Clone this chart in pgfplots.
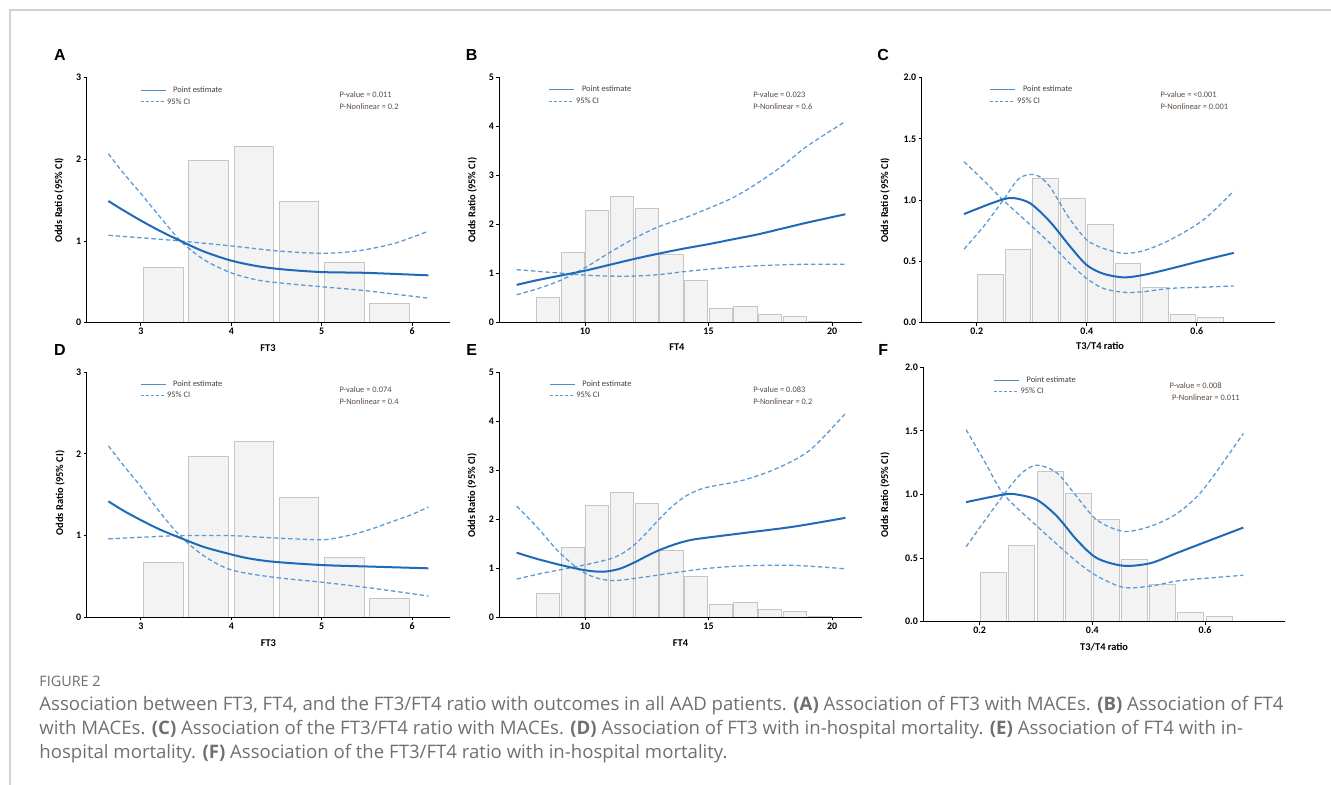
\documentclass[border=0pt]{standalone}
\usepackage{fontspec}
\setmainfont{Carlito}
\newfontfamily\capfont{Open Sans}
\newfontfamily\letfont{Liberation Sans}
\usepackage{pgfplots}
\pgfplotsset{compat=1.18}

\definecolor{ptblue}{HTML}{1F6AB8}
\definecolor{ciblue}{HTML}{5B9BD5}
\definecolor{barfill}{HTML}{F3F3F3}
\definecolor{baredge}{HTML}{C6C6C6}
\definecolor{ptext}{HTML}{5A4B42}
\definecolor{captext}{HTML}{707070}
\definecolor{framegray}{HTML}{D2D2D2}

\newcommand\pfont{\fontsize{4.2}{5}\selectfont}
\newcommand\letter[1]{{\letfont\bfseries\fontsize{8}{8}\selectfont #1}}

\pgfplotsset{
  panel/.style={
    scale only axis, anchor=south west,
    axis x line*=bottom, axis y line*=left,
    axis line style={-, line width=0.75pt, black},
    axis on top,
    tick align=outside, major tick length=1.5pt,
    tick style={black, line width=0.5pt},
    ymin=0, clip=false,
    /pgf/number format/assume math mode=true,
    ticklabel style={font=\fontsize{5}{5}\selectfont\bfseries, inner sep=1pt},
    label style={font=\fontsize{5.2}{5.2}\selectfont\bfseries},
    ylabel={Odds Ratio (95\% CI)},
    legend style={draw=none, fill=none, inner sep=0pt, outer sep=0pt,
      anchor=north west, font=\pfont\color{darkgray}, row sep=0.8pt,
      nodes={inner sep=0.6pt, text height=3pt, text depth=0.9pt}},
    legend cell align=left,
    legend image code/.code={\draw[##1] (0pt,0pt) -- (12.5pt,0pt);},
  },
  pe/.style={ptblue, line width=1pt, smooth, tension=0.5, forget plot},
  ci/.style={ciblue, line width=0.65pt, dash pattern=on 2.2pt off 1.4pt, smooth, tension=0.5, forget plot},
  hist/.style={ybar, fill=barfill, draw=baredge, line width=0.5pt, forget plot},
  keys/.style={
    legend style={at={(#1)}},
  },
}
\newcommand\legendpair{%
  \addlegendimage{ciblue!75!ptblue, line width=0.45pt}
  \addlegendentry{\hspace{3pt}Point estimate}
  \addlegendimage{ciblue, line width=0.45pt, dash pattern=on 1.5pt off 1pt}
  \addlegendentry{95\% CI}}

\begin{document}
\begin{tikzpicture}
\useasboundingbox (0,0) rectangle (665.5pt,-392.5pt);
\draw[framegray, line width=0.7pt] (5pt,-392.5pt) -- (5pt,-5pt) -- (665.5pt,-5pt);

% ---------- A ----------
\node at (30pt,-27.5pt) {\letter{A}};
\begin{axis}[panel, at={(43.35pt,-161.35pt)}, width=181.65pt, height=122.5pt,
  xmin=2.40, xmax=6.42, ymax=3, xtick={3,4,5,6}, ytick={0,1,2,3},
  xlabel={FT3},
  xlabel style={at={(axis description cs:0.499,-0.103)}, anchor=center},
  ylabel style={at={(axis description cs:-0.076,0.5)}, anchor=center},
  keys={0.147,0.970}]
\addplot[hist, bar width=0.44] coordinates {(3.25,0.68)(3.75,1.98)(4.25,2.16)(4.75,1.48)(5.25,0.74)(5.75,0.24)};
\addplot[ci] coordinates {(2.64,2.07)(2.8,1.84)(3.0,1.58)(3.2,1.31)(3.44,1.0)(3.7,0.77)(4.0,0.61)(4.3,0.52)(4.6,0.48)(5.0,0.44)(5.5,0.39)(6.18,0.30)};
\addplot[ci] coordinates {(2.64,1.07)(3.0,1.04)(3.44,1.0)(4.0,0.94)(4.5,0.88)(5.0,0.85)(5.4,0.88)(5.8,0.97)(6.18,1.12)};
\addplot[pe] coordinates {(2.64,1.49)(2.8,1.38)(3.0,1.25)(3.2,1.13)(3.44,1.0)(3.7,0.87)(4.0,0.76)(4.3,0.69)(4.6,0.65)(5.0,0.62)(5.5,0.61)(6.18,0.58)};
\legendpair
\node[anchor=base west, inner sep=0, font=\pfont, text=ptext] at (rel axis cs:0.695,0.919) {P-value = 0.011};
\node[anchor=base west, inner sep=0, font=\pfont, text=ptext] at (rel axis cs:0.695,0.871) {P-Nonlinear = 0.2};
\end{axis}

% ---------- B ----------
\node at (235.8pt,-27.5pt) {\letter{B}};
\begin{axis}[panel, at={(249.65pt,-161.35pt)}, width=181.2pt, height=122.7pt,
  xmin=6.53, xmax=21.2, ymax=5, xtick={10,15,20}, ytick={0,1,2,3,4,5},
  xlabel={FT4},
  xlabel style={at={(axis description cs:0.49,-0.098)}, anchor=center},
  ylabel style={at={(axis description cs:-0.0745,0.5)}, anchor=center},
  keys={0.137,0.971}]
\addplot[hist, bar width=0.94] coordinates {(8.5,0.51)(9.5,1.44)(10.5,2.29)(11.5,2.57)(12.5,2.33)(13.5,1.38)(14.5,0.85)(15.5,0.29)(16.5,0.32)(17.5,0.17)(18.5,0.13)(19.5,0.03)};
\addplot[ci] coordinates {(7.23,0.57)(8,0.68)(9,0.86)(10,1.12)(11,1.43)(12,1.72)(13,1.96)(14,2.13)(15,2.33)(16,2.55)(17,2.85)(18,3.2)(19,3.6)(20.54,4.1)};
\addplot[ci] coordinates {(7.23,1.08)(8,1.05)(9,1.01)(10,0.97)(11,0.95)(12,0.95)(13,0.98)(14,1.04)(15,1.09)(16,1.13)(17,1.16)(18,1.18)(19,1.19)(20.54,1.19)};
\addplot[pe] coordinates {(7.23,0.77)(8,0.86)(9,0.96)(10,1.06)(11,1.18)(12,1.30)(13,1.41)(14,1.51)(15,1.60)(16,1.70)(17,1.80)(18,1.92)(19,2.04)(20.54,2.21)};
\legendpair
\node[anchor=base west, inner sep=0, font=\pfont, text=ptext] at (rel axis cs:0.700,0.918) {P-value = 0.023};
\node[anchor=base west, inner sep=0, font=\pfont, text=ptext] at (rel axis cs:0.700,0.870) {P-Nonlinear = 0.6};
\end{axis}

% ---------- C ----------
\node at (441.6pt,-27.5pt) {\letter{C}};
\begin{axis}[panel, at={(460.85pt,-161.35pt)}, width=176.65pt, height=122.5pt,
  xmin=0.1, xmax=0.742, ymax=2, xtick={0.2,0.4,0.6}, ytick={0,0.5,1,1.5,2},
  yticklabel style={/pgf/number format/.cd, fixed, fixed zerofill, precision=1},
  xlabel={T3/T4 ratio},
  xlabel style={at={(axis description cs:0.505,-0.095)}, anchor=center},
  ylabel style={at={(axis description cs:-0.104,0.5)}, anchor=center},
  keys={0.193,0.973}]
\addplot[hist, bar width=0.046] coordinates {(0.225,0.39)(0.275,0.60)(0.325,1.18)(0.375,1.01)(0.425,0.80)(0.475,0.485)(0.525,0.29)(0.575,0.07)(0.625,0.045)};
\addplot[ci] coordinates {(0.177,0.60)(0.215,0.80)(0.248,1.0)(0.275,1.17)(0.297,1.21)(0.315,1.19)(0.333,1.11)(0.352,0.97)(0.370,0.84)(0.40,0.675)(0.43,0.607)(0.467,0.566)(0.503,0.588)(0.551,0.675)(0.612,0.84)(0.667,1.075)};
\addplot[ci] coordinates {(0.177,1.314)(0.215,1.15)(0.248,1.0)(0.297,0.80)(0.333,0.65)(0.370,0.48)(0.40,0.36)(0.43,0.28)(0.467,0.248)(0.503,0.253)(0.551,0.28)(0.612,0.29)(0.667,0.30)};
\addplot[pe] coordinates {(0.177,0.887)(0.218,0.96)(0.248,1.007)(0.267,1.018)(0.297,0.975)(0.333,0.825)(0.370,0.62)(0.40,0.47)(0.43,0.40)(0.467,0.37)(0.503,0.39)(0.551,0.44)(0.612,0.51)(0.667,0.57)};
\legendpair
\node[anchor=base west, inner sep=0, font=\pfont, text=ptext] at (rel axis cs:0.675,0.919) {P-value = <0.001};
\node[anchor=base west, inner sep=0, font=\pfont, text=ptext] at (rel axis cs:0.675,0.871) {P-Nonlinear = 0.001};
\end{axis}

% ---------- D ----------
\node at (30pt,-175pt) {\letter{D}};
\begin{axis}[panel, at={(43.35pt,-308.65pt)}, width=181.65pt, height=122.5pt,
  xmin=2.40, xmax=6.42, ymax=3, xtick={3,4,5,6}, ytick={0,1,2,3},
  xlabel={FT3},
  xlabel style={at={(axis description cs:0.5,-0.104)}, anchor=center},
  ylabel style={at={(axis description cs:-0.0735,0.507)}, anchor=center},
  keys={0.147,0.973}]
\addplot[hist, bar width=0.44] coordinates {(3.25,0.67)(3.75,1.97)(4.25,2.15)(4.75,1.47)(5.25,0.73)(5.75,0.23)};
\addplot[ci] coordinates {(2.64,2.10)(2.8,1.87)(3.0,1.60)(3.2,1.30)(3.44,0.99)(3.7,0.75)(4.0,0.58)(4.47,0.49)(5.0,0.43)(5.57,0.355)(6.18,0.26)};
\addplot[ci] coordinates {(2.64,0.96)(3.0,0.98)(3.44,1.0)(4.0,1.0)(4.5,0.97)(5.0,0.95)(5.2,0.98)(5.4,1.03)(5.6,1.10)(5.8,1.18)(6.0,1.26)(6.18,1.35)};
\addplot[pe] coordinates {(2.64,1.42)(2.8,1.31)(3.0,1.19)(3.2,1.08)(3.44,0.97)(3.7,0.86)(4.0,0.77)(4.2,0.72)(4.47,0.68)(5.0,0.64)(5.57,0.62)(6.18,0.60)};
\legendpair
\node[anchor=base west, inner sep=0, font=\pfont, text=ptext] at (rel axis cs:0.695,0.918) {P-value = 0.074};
\node[anchor=base west, inner sep=0, font=\pfont, text=ptext] at (rel axis cs:0.695,0.870) {P-Nonlinear = 0.4};
\end{axis}

% ---------- E ----------
\node at (235.8pt,-175pt) {\letter{E}};
\begin{axis}[panel, at={(249.65pt,-308.65pt)}, width=181.2pt, height=122.5pt,
  xmin=6.53, xmax=21.2, ymax=5, xtick={10,15,20}, ytick={0,1,2,3,4,5},
  xlabel={FT4},
  xlabel style={at={(axis description cs:0.5,-0.104)}, anchor=center},
  ylabel style={at={(axis description cs:-0.075,0.497)}, anchor=center},
  keys={0.138,0.973}]
\addplot[hist, bar width=0.94] coordinates {(8.5,0.49)(9.5,1.43)(10.5,2.29)(11.5,2.55)(12.5,2.33)(13.5,1.37)(14.5,0.84)(15.5,0.27)(16.5,0.30)(17.5,0.16)(18.5,0.11)(19.5,0.02)};
\addplot[ci] coordinates {(7.23,0.78)(8,0.87)(8.99,0.97)(10,1.07)(11,1.19)(11.5,1.30)(12,1.48)(12.5,1.73)(13,2.0)(13.5,2.25)(14,2.45)(14.5,2.58)(15,2.66)(16.42,2.80)(17.77,3.04)(19.1,3.41)(20.54,4.16)};
\addplot[ci] coordinates {(7.23,2.27)(8.04,1.85)(8.99,1.31)(10,0.90)(11.03,0.75)(12.38,0.82)(13.73,0.92)(15,1.0)(16.42,1.05)(18.45,1.06)(20.54,0.99)};
\addplot[pe] coordinates {(7.23,1.32)(8,1.20)(8.99,1.07)(10,0.96)(10.74,0.93)(11.4,0.99)(12,1.12)(12.5,1.25)(13,1.37)(13.7,1.50)(14.3,1.58)(15,1.63)(16.42,1.72)(18.45,1.85)(20.54,2.03)};
\legendpair
\node[anchor=base west, inner sep=0, font=\pfont, text=ptext] at (rel axis cs:0.700,0.918) {P-value = 0.083};
\node[anchor=base west, inner sep=0, font=\pfont, text=ptext] at (rel axis cs:0.700,0.870) {P-Nonlinear = 0.2};
\end{axis}

% ---------- F ----------
\node at (441.6pt,-175pt) {\letter{F}};
\begin{axis}[panel, at={(461.65pt,-310.85pt)}, width=180.85pt, height=127.2pt,
  xmin=0.1, xmax=0.742, ymax=2, xtick={0.2,0.4,0.6}, ytick={0,0.5,1,1.5,2},
  yticklabel style={/pgf/number format/.cd, fixed, fixed zerofill, precision=1},
  xlabel={T3/T4 ratio},
  xlabel style={at={(axis description cs:0.5,-0.098)}, anchor=center},
  ylabel style={at={(axis description cs:-0.106,0.498)}, anchor=center},
  keys={0.194,0.970}]
\addplot[hist, bar width=0.046] coordinates {(0.225,0.39)(0.275,0.60)(0.325,1.18)(0.375,1.01)(0.425,0.80)(0.475,0.49)(0.525,0.29)(0.575,0.07)(0.625,0.04)};
\addplot[ci] coordinates {(0.176,0.59)(0.21,0.80)(0.243,1.0)(0.275,1.17)(0.302,1.23)(0.337,1.17)(0.373,0.98)(0.408,0.80)(0.455,0.71)(0.503,0.75)(0.55,0.85)(0.597,1.04)(0.668,1.48)};
\addplot[ci] coordinates {(0.176,1.51)(0.21,1.25)(0.243,1.0)(0.302,0.75)(0.337,0.61)(0.373,0.47)(0.408,0.36)(0.455,0.27)(0.503,0.28)(0.55,0.32)(0.597,0.34)(0.668,0.365)};
\addplot[pe] coordinates {(0.176,0.94)(0.243,1.0)(0.266,1.0)(0.302,0.957)(0.337,0.83)(0.373,0.64)(0.408,0.50)(0.455,0.44)(0.503,0.46)(0.55,0.54)(0.597,0.62)(0.668,0.74)};
\legendpair
\node[anchor=base west, inner sep=0, font=\pfont, text=ptext] at (rel axis cs:0.680,0.918) {P-value = 0.008};
\node[anchor=base west, inner sep=0, font=\pfont, text=ptext] at (rel axis cs:0.687,0.868) {P-Nonlinear = 0.011};
\end{axis}

% ---------- caption ----------
\begin{scope}[every node/.style={anchor=base west, inner sep=0, text=captext}]
\node[font=\capfont\fontsize{7.2}{8}\selectfont, text=gray!85!black] at (19.5pt,-343pt) {FIGURE 2};
\node[font=\capfont\fontsize{9.3}{11}\selectfont] at (19.5pt,-355pt) {Association between FT3, FT4, and the FT3/FT4 ratio with outcomes in all AAD patients. \textbf{(A)} Association of FT3 with MACEs. \textbf{(B)} Association of FT4};
\node[font=\capfont\fontsize{9.3}{11}\selectfont] at (19.5pt,-367pt) {with MACEs. \textbf{(C)} Association of the FT3/FT4 ratio with MACEs. \textbf{(D)} Association of FT3 with in-hospital mortality. \textbf{(E)} Association of FT4 with in-};
\node[font=\capfont\fontsize{9.3}{11}\selectfont] at (19.5pt,-379pt) {hospital mortality. \textbf{(F)} Association of the FT3/FT4 ratio with in-hospital mortality.};
\end{scope}
\end{tikzpicture}
\end{document}
